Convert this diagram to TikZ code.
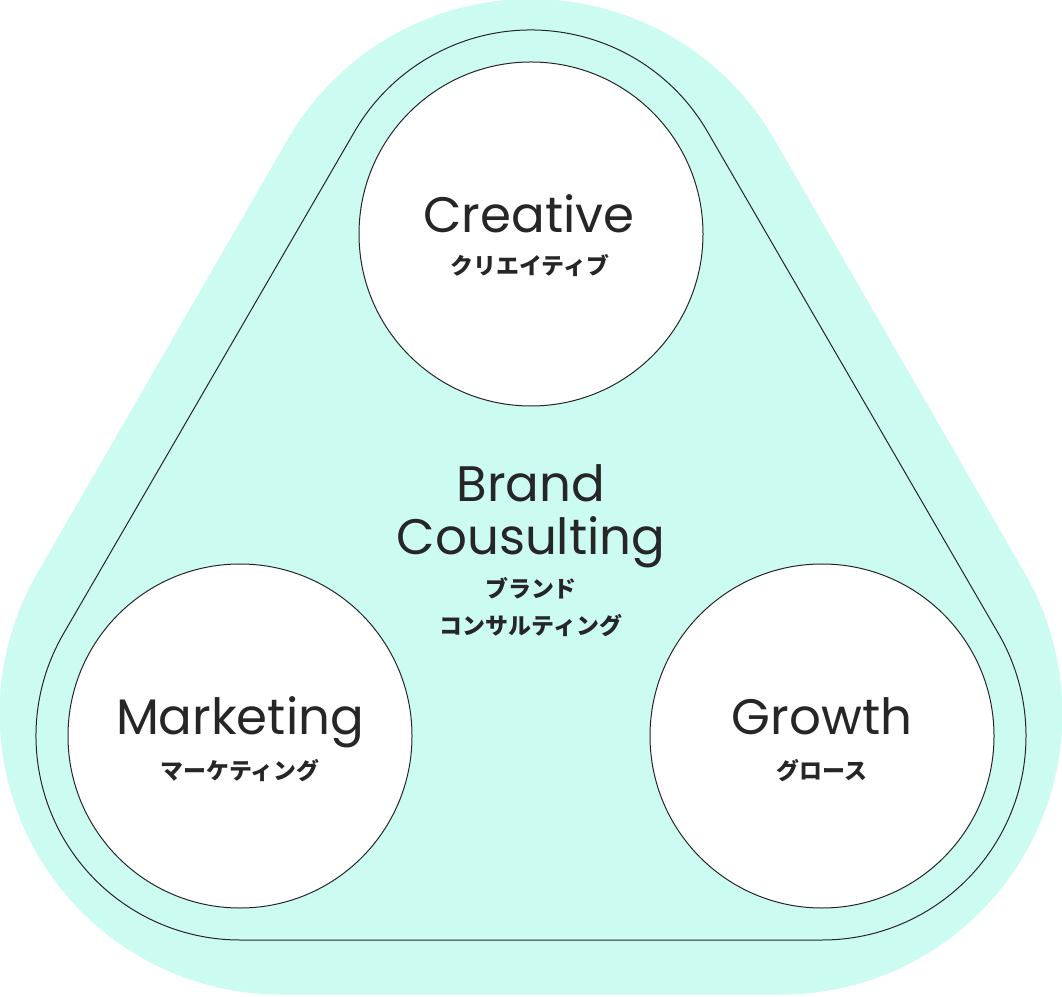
\documentclass[tikz,border=0pt]{standalone}
\usepackage{fontspec}
\setmainfont{Poppins}
\newfontfamily\jp{Noto Sans CJK JP}
\usetikzlibrary{calc}
\definecolor{mint}{HTML}{CCFBF1}
\definecolor{ink}{HTML}{262626}
\begin{document}
\begin{tikzpicture}[x=0.75pt,y=0.75pt,
    field/.style={draw=ink,line width=0.75pt,circle,fill=white,minimum size=258pt,inner sep=0pt},
    en/.style={anchor=base,text=ink,font=\fontsize{37.4}{42}\selectfont},
    ja/.style={anchor=base,text=ink,font=\jp\bfseries\fontsize{17.2}{20}\selectfont}]
     \useasboundingbox (0,0) rectangle (1062,996);

     \coordinate (otop) at (531,716);
     \coordinate (oleft) at (280.7,282.5);
     \coordinate (oright) at (781.3,282.5);
     \fill[mint] ($(otop)+(30:281)$) arc[start angle=30,end angle=150,radius=281]
        -- ($(oleft)+(150:281)$) arc[start angle=150,end angle=270,radius=281]
        -- ($(oright)+(270:281)$) arc[start angle=270,end angle=390,radius=281] -- cycle;

     \coordinate (creative) at (531,762);
     \coordinate (marketing) at (240,260);
     \coordinate (growth) at (822,260);
     \draw[ink,line width=0.75pt] ($(creative)+(30:204)$) arc[start angle=30,end angle=150,radius=204]
        -- ($(marketing)+(150:204)$) arc[start angle=150,end angle=270,radius=204]
        -- ($(growth)+(270:204)$) arc[start angle=270,end angle=390,radius=204] -- cycle;

     \node[field] (c1) at (creative) {};
     \node[en] (c1en) at (529,763) {Creative};
     \node[ja] (c1ja) at (530,721) {クリエイティブ};

     \node[field] (c2) at (marketing) {};
     \node[en] (c2en) at (240,262) {Marketing};
     \node[ja] (c2ja) at (240,217) {マーケティング};

     \node[field] (c3) at (growth) {};
     \node[en] (c3en) at (822,262) {Growth};
     \node[ja] (c3ja) at (822,217) {グロース};

     \node[en] (b1) at (531,494) {Brand};
     \node[en] (b2) at (531,441) {Cousulting};
     \node[ja] (b3) at (531,398) {ブランド};
     \node[ja] (b4) at (531,362) {コンサルティング};
    \end{tikzpicture}
\end{document}
